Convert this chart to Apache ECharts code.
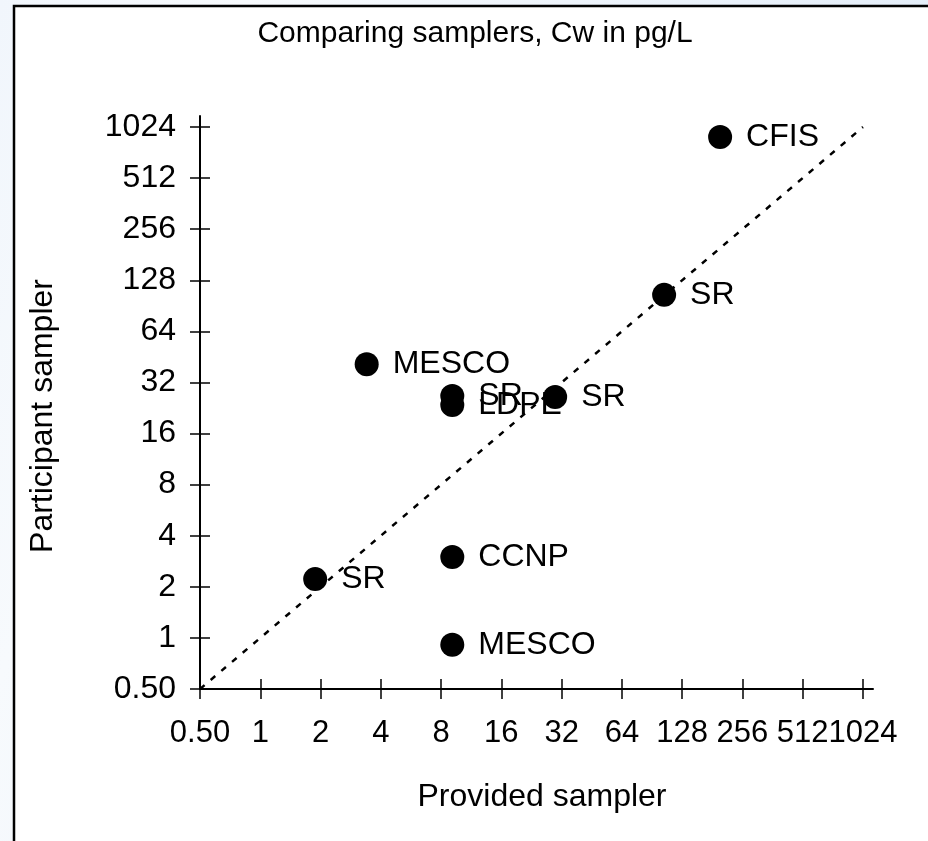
<!DOCTYPE html>
<html>
<head>
<meta charset="utf-8">
<script src="https://cdn.jsdelivr.net/npm/echarts@6/dist/echarts.min.js"></script>
<style>
  html, body { margin: 0; padding: 0; }
  body {
    width: 928px; height: 841px; overflow: hidden;
    background: linear-gradient(110deg, #f1f6fc 0%, #f7fafd 20%, #e9f1fa 60%, #dde9f6 100%);
  }
  #chart { width: 928px; height: 841px; }
</style>
</head>
<body>
<div id="chart"></div>
<script>
// Sampler comparison: concentration in water (pg/L), both axes on a base-2 log scale
const sampleNames = ['CFIS', 'SR', 'MESCO', 'SR', 'LDPE', 'SR', 'CCNP', 'SR', 'MESCO'];
const providedValues = [198, 104, 3.4, 9.1, 9.1, 29.7, 9.1, 1.88, 9.1];
const participantValues = [893, 105, 41, 26.6, 23.6, 26.3, 3.0, 2.22, 0.91];

// 1:1 reference line end points
const identityLine = [0.5, 1024];

// Tick labels for the powers of two from 2^-1 to 2^10
const tickLabels = ['0.50', '1', '2', '4', '8', '16', '32', '64', '128', '256', '512', '1024'];
const tickExponents = tickLabels.map(function (t) { return Math.log2(parseFloat(t)); });

const FONT = "'Liberation Sans', Arial, Helvetica, sans-serif";

const points = providedValues.map(function (x, i) {
  return { name: sampleNames[i], value: [Math.log2(x), Math.log2(participantValues[i])] };
});
const linePoints = identityLine.map(function (v) { return [Math.log2(v), Math.log2(v)]; });

function fmt(v) {
  const i = tickExponents.indexOf(Math.round(v * 1000) / 1000);
  return i >= 0 ? tickLabels[i] : '';
}

function axisPair(dim, maxExp) {
  const base = {
    type: 'value',
    min: -1,
    max: maxExp,
    splitLine: { show: false },
    position: dim === 'x' ? 'bottom' : 'left'
  };
  const main = Object.assign({}, base, {
    axisLine: { show: true, onZero: false, lineStyle: { color: '#000', width: 2 } },
    axisTick: { show: true, length: 10, customValues: tickExponents, lineStyle: { color: '#000', width: 1.5 } },
    axisLabel: {
      show: true, customValues: tickExponents, formatter: fmt,
      hideOverlap: false, showMinLabel: true, showMaxLabel: true,
      color: '#000', fontSize: dim === 'x' ? 31 : 32, fontFamily: FONT,
      margin: dim === 'x' ? 29 : 24
    }
  });
  const inner = Object.assign({}, base, {
    axisLine: { show: false, onZero: false },
    axisTick: { show: true, inside: true, length: 10, customValues: tickExponents, lineStyle: { color: '#000', width: 1.5 } },
    axisLabel: { show: false }
  });
  return [main, inner];
}

const chart = echarts.init(document.getElementById('chart'), null, { renderer: 'canvas' });
chart.setOption({
  backgroundColor: 'transparent',
  animation: false,
  grid: { left: 200, top: 116, width: 673, height: 573, containLabel: false, outerBoundsMode: 'none' },
  xAxis: axisPair('x', 10.166),
  yAxis: axisPair('y', 10.215),
  graphic: [
    { type: 'rect', z: -10, shape: { x: 14, y: 6, width: 940, height: 860 },
      style: { fill: '#fff', stroke: '#000', lineWidth: 2.5 } },
    { type: 'text', x: 475, y: 34, style: { text: 'Comparing samplers, Cw in pg/L', font: '30px ' + FONT,
      fill: '#000', textAlign: 'center', textVerticalAlign: 'middle' } },
    { type: 'text', x: 542, y: 797, style: { text: 'Provided sampler', font: '32px ' + FONT,
      fill: '#000', textAlign: 'center', textVerticalAlign: 'middle' } },
    { type: 'text', x: 43, y: 416, rotation: Math.PI / 2, style: { text: 'Participant sampler', font: '32px ' + FONT,
      fill: '#000', textAlign: 'center', textVerticalAlign: 'middle' } }
  ],
  series: [
    {
      type: 'line',
      data: linePoints,
      symbol: 'none',
      silent: true,
      z: 1,
      lineStyle: { color: '#000', width: 2.5, type: [6, 8] }
    },
    {
      type: 'scatter',
      data: points,
      symbol: 'circle',
      symbolSize: 24,
      z: 3,
      itemStyle: { color: '#000', opacity: 1 },
      label: {
        show: true, position: 'right', distance: 14,
        formatter: '{b}', color: '#000', fontSize: 32, fontFamily: FONT
      }
    }
  ]
});
</script>
</body>
</html>
